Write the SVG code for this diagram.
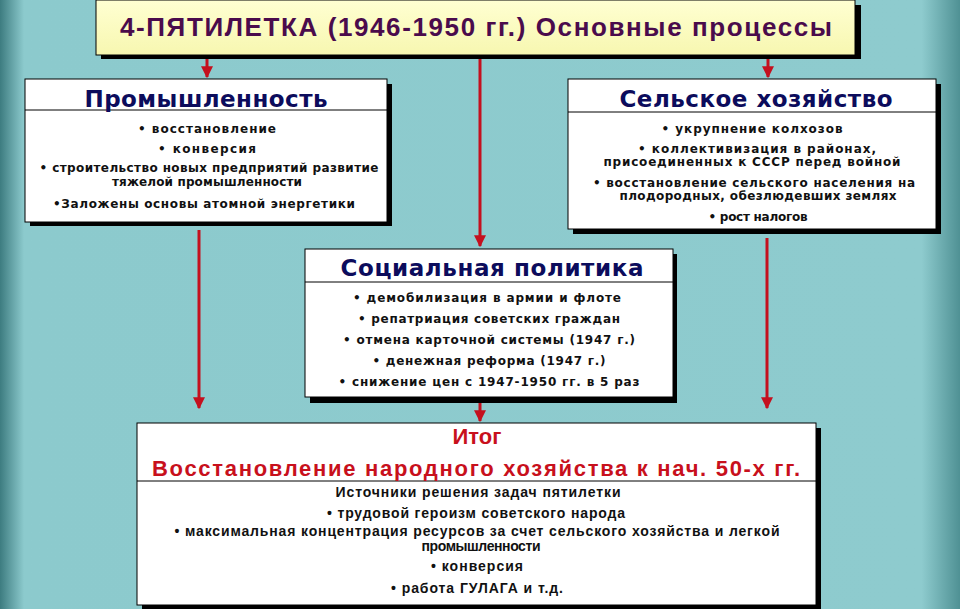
<svg xmlns="http://www.w3.org/2000/svg" width="960" height="609" viewBox="0 0 960 609">
<defs>
<linearGradient id="bg" x1="0" y1="0" x2="1" y2="0">
<stop offset="0" stop-color="#3d7c80"/>
<stop offset="0.025" stop-color="#8ccacd"/>
<stop offset="0.96" stop-color="#8ecbce"/>
<stop offset="1" stop-color="#4f9194"/>
</linearGradient>
<linearGradient id="yel" x1="0" y1="0" x2="0" y2="1">
<stop offset="0" stop-color="#ffffd2"/>
<stop offset="1" stop-color="#f7f7b0"/>
</linearGradient>
<marker id="ah" viewBox="0 0 10 10" refX="9" refY="5" markerWidth="4" markerHeight="4" orient="auto" markerUnits="strokeWidth">
<path d="M0,0 L10,5 L0,10 z" fill="#c4101e"/>
</marker>
</defs>
<style>
.sh{fill:#000}
.bx{fill:#fff;stroke:#000;stroke-width:1}
.hl{stroke:#000;stroke-width:1}
.hd{font-family:"DejaVu Sans",Verdana,sans-serif;font-weight:bold;font-size:23px;fill:#0c0c5c;text-anchor:middle}
.bl{font-family:"DejaVu Sans",Verdana,sans-serif;font-weight:bold;font-size:12px;fill:#111;text-anchor:middle}
.bb{font-family:"Liberation Sans",Arial,sans-serif;font-weight:bold;font-size:14px;fill:#111;text-anchor:middle}
.rd{font-family:"Liberation Sans",Arial,sans-serif;font-weight:bold;font-size:22px;fill:#c8101c;text-anchor:middle}
.ttl{font-family:"Liberation Sans",Arial,sans-serif;font-weight:bold;font-size:26px;fill:#4a0b4c;text-anchor:middle}
.ar{stroke:#c4101e;stroke-width:3;fill:none;marker-end:url(#ah)}
</style>
<rect width="960" height="609" fill="url(#bg)"/>

<g id="connectors">
<line class="ar" x1="207" y1="56" x2="207" y2="77"/>
<line class="ar" x1="480" y1="56" x2="480" y2="246"/>
<line class="ar" x1="768" y1="56" x2="768" y2="77"/>
<line class="ar" x1="199" y1="230" x2="199" y2="408"/>
<line class="ar" x1="767" y1="238" x2="767" y2="408"/>
<line class="ar" x1="480" y1="402" x2="480" y2="421"/>
</g>

<g id="title">
<rect class="sh" x="101" y="5" width="760" height="54"/>
<rect x="96" y="0" width="759" height="55" fill="url(#yel)" stroke="#000" stroke-width="1"/>
<text class="ttl" x="476" y="36" textLength="712">4-ПЯТИЛЕТКА (1946-1950 гг.) Основные процессы</text>
</g>

<g id="industry">
<rect class="sh" x="30" y="84" width="362" height="142"/>
<rect class="bx" x="25" y="79" width="362" height="143"/>
<line class="hl" x1="25" y1="110" x2="387" y2="110"/>
<text class="hd" x="206" y="107" textLength="243">Промышленность</text>
<text class="bl" x="207" y="133" textLength="138">• восстановление</text>
<text class="bl" x="207" y="153" textLength="98">• конверсия</text>
<text class="bl" x="209" y="172" textLength="339">• строительство новых предприятий развитие</text>
<text class="bl" x="207" y="186" textLength="190">тяжелой промышленности</text>
<text class="bl" x="204" y="208" textLength="302">•Заложены основы атомной энергетики</text>
</g>

<g id="agriculture">
<rect class="sh" x="573" y="84" width="368" height="150"/>
<rect class="bx" x="568" y="79" width="368" height="150"/>
<line class="hl" x1="568" y1="112" x2="936" y2="112"/>
<text class="hd" x="756" y="107" textLength="273">Сельское хозяйство</text>
<text class="bl" x="752" y="133" textLength="181">• укрупнение колхозов</text>
<text class="bl" x="757" y="153" textLength="238">• коллективизация в районах,</text>
<text class="bl" x="752" y="166" textLength="297">присоединенных к СССР перед войной</text>
<text class="bl" x="754" y="187" textLength="322">• восстановление сельского населения на</text>
<text class="bl" x="758" y="200" textLength="277">плодородных, обезлюдевших землях</text>
<text class="bl" x="758" y="221" textLength="99">• рост налогов</text>
</g>

<g id="social">
<rect class="sh" x="310" y="254" width="367" height="149"/>
<rect class="bx" x="305" y="249" width="368" height="148"/>
<line class="hl" x1="305" y1="282" x2="673" y2="282"/>
<text class="hd" x="492" y="276" textLength="303">Социальная политика</text>
<text class="bl" x="487" y="302" textLength="268">• демобилизация в армии и флоте</text>
<text class="bl" x="489" y="323" textLength="262">• репатриация советских граждан</text>
<text class="bl" x="489" y="344" textLength="292">• отмена карточной системы (1947 г.)</text>
<text class="bl" x="489" y="365" textLength="233">• денежная реформа (1947 г.)</text>
<text class="bl" x="489" y="386" textLength="301">• снижение цен с 1947-1950 гг. в 5 раз</text>
</g>

<g id="result">
<rect class="sh" x="142" y="428" width="679" height="181"/>
<rect class="bx" x="137" y="423" width="679" height="182"/>
<line class="hl" x1="137" y1="481" x2="816" y2="481"/>
<text class="rd" x="477" y="444">Итог</text>
<text class="rd" x="476" y="476" textLength="648">Восстановление народного хозяйства к нач. 50-х гг.</text>
<text class="bb" x="478" y="497" textLength="285">Источники решения задач пятилетки</text>
<text class="bb" x="476" y="518" textLength="298">• трудовой героизм советского народа</text>
<text class="bb" x="477" y="536" textLength="605">• максимальная концентрация ресурсов за счет сельского хозяйства и легкой</text>
<text class="bb" x="481" y="551" textLength="119">промышленности</text>
<text class="bb" x="477" y="571" textLength="92">• конверсия</text>
<text class="bb" x="477" y="593" textLength="172">• работа ГУЛАГА и т.д.</text>
</g>
</svg>
